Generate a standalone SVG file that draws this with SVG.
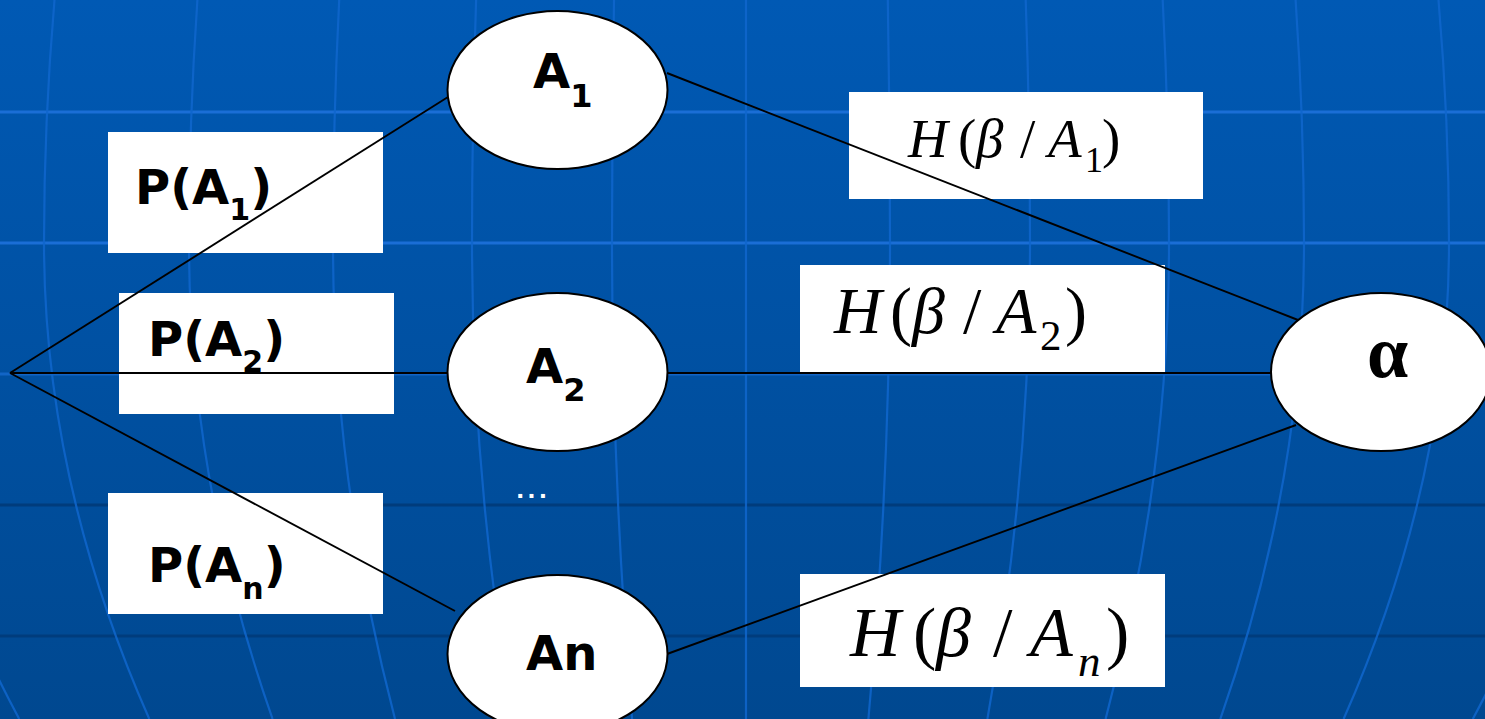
<svg xmlns="http://www.w3.org/2000/svg" width="1485" height="719" viewBox="0 0 1485 719">
  <defs>
    <linearGradient id="bg" x1="0" y1="0" x2="0" y2="1">
      <stop offset="0" stop-color="#0059b4"/>
      <stop offset="1" stop-color="#004890"/>
    </linearGradient>
    <style>
      .merid { fill: none; stroke: #0f66cc; stroke-width: 2.2; opacity: 0.85; }
      .hl { stroke: #1a6ed6; stroke-width: 3; }
      .hd { stroke: #003c7c; stroke-width: 3; }
      .box { fill: #ffffff; }
      .conn { stroke: #000000; stroke-width: 1.9; fill: none; }
      .node ellipse { fill: #ffffff; stroke: #000000; stroke-width: 2; }
      .sans { font-family: "DejaVu Sans", Verdana, sans-serif; font-weight: bold; fill: #000000; }
      .serif { font-family: "Liberation Serif", "Times New Roman", serif; fill: #000000; }
      .it { font-style: italic; }
    </style>
  </defs>

  <!-- backdrop with globe grid -->
  <rect width="1485" height="719" fill="url(#bg)"/>
  <g id="grid">
    <line class="hl" x1="0" y1="112" x2="1485" y2="112"/>
    <line class="hl" x1="0" y1="243" x2="1485" y2="243"/>
    <line class="hl" x1="0" y1="374" x2="1485" y2="374" opacity="0.7"/>
    <line class="hd" x1="0" y1="505" x2="1485" y2="505"/>
    <line class="hd" x1="0" y1="636" x2="1485" y2="636"/>
    <path class="merid" d="M-96.2 0 Q-109 121.5 -109 243 Q-109 481 19.25 719"/>
    <path class="merid" d="M54.5 0 Q44 121.5 44 243 Q44 481 149.3 719"/>
    <path class="merid" d="M197.4 0 Q189 121.5 189 243 Q189 481 272.6 719"/>
    <path class="merid" d="M339.2 0 Q333 121.5 333 243 Q333 481 395 719"/>
    <path class="merid" d="M476.1 0 Q472 121.5 472 243 Q472 481 513.1 719"/>
    <path class="merid" d="M614 0 Q612 121.5 612 243 Q612 481 632.1 719"/>
    <path class="merid" d="M746 0 L746 719"/>
    <path class="merid" d="M887.8 0 Q890 121.5 890 243 Q890 481 868.4 719"/>
    <path class="merid" d="M1025.7 0 Q1030 121.5 1030 243 Q1030 481 987.4 719"/>
    <path class="merid" d="M1162.7 0 Q1169 121.5 1169 243 Q1169 481 1105.6 719"/>
    <path class="merid" d="M1295.6 0 Q1304 121.5 1304 243 Q1304 481 1220.3 719"/>
    <path class="merid" d="M1438.5 0 Q1449 121.5 1449 243 Q1449 481 1343.6 719"/>
    <path class="merid" d="M1588.2 0 Q1601 121.5 1601 243 Q1601 481 1472.8 719"/>
  </g>

  <!-- probability labels -->
  <g id="label-pa1">
    <rect class="box" x="108" y="132" width="275" height="121"/>
    <text class="sans" x="135" y="204" font-size="48">P(A<tspan font-size="30" dy="16">1</tspan><tspan dy="-16">)</tspan></text>
  </g>
  <g id="label-pa2">
    <rect class="box" x="119" y="293" width="275" height="121"/>
    <text class="sans" x="148" y="356" font-size="48">P(A<tspan font-size="30" dy="16">2</tspan><tspan dy="-16">)</tspan></text>
  </g>
  <g id="label-pan">
    <rect class="box" x="108" y="493" width="275" height="121"/>
    <text class="sans" x="148" y="582" font-size="48">P(A<tspan font-size="30" dy="17">n</tspan><tspan dy="-17">)</tspan></text>
  </g>

  <!-- conditional entropy labels -->
  <g id="label-h1">
    <rect class="box" x="849" y="92" width="354" height="107"/>
    <text class="serif" font-size="55">
      <tspan class="it" x="908" y="157">H</tspan><tspan x="958" y="157">(</tspan><tspan class="it" x="976" y="157">β</tspan><tspan x="1020" y="157">/</tspan><tspan class="it" x="1048" y="157">A</tspan><tspan x="1085" y="172" font-size="36">1</tspan><tspan x="1102" y="157">)</tspan>
    </text>
  </g>
  <g id="label-h2">
    <rect class="box" x="800" y="265" width="365" height="107"/>
    <text class="serif" font-size="66">
      <tspan class="it" x="834" y="333">H</tspan><tspan x="890" y="333">(</tspan><tspan class="it" x="912" y="333">β</tspan><tspan x="963" y="333">/</tspan><tspan class="it" x="996" y="333">A</tspan><tspan x="1040" y="350" font-size="43">2</tspan><tspan x="1065" y="333">)</tspan>
    </text>
  </g>
  <g id="label-hn">
    <rect class="box" x="800" y="574" width="365" height="113"/>
    <text class="serif" font-size="70">
      <tspan class="it" x="850" y="656">H</tspan><tspan x="913" y="656">(</tspan><tspan class="it" x="936" y="656">β</tspan><tspan x="993" y="656">/</tspan><tspan class="it" x="1030" y="656">A</tspan><tspan class="it" x="1078" y="676" font-size="45">n</tspan><tspan x="1106" y="656">)</tspan>
    </text>
  </g>

  <!-- connectors -->
  <g id="connectors">
    <line class="conn" x1="10" y1="373" x2="448" y2="97"/>
    <line class="conn" x1="10" y1="373" x2="448" y2="373"/>
    <line class="conn" x1="10" y1="373" x2="455" y2="611"/>
    <line class="conn" x1="667" y1="73" x2="1298" y2="320"/>
    <line class="conn" x1="667" y1="373" x2="1272" y2="373"/>
    <line class="conn" x1="667" y1="654" x2="1296" y2="425"/>
  </g>

  <!-- nodes -->
  <g id="node-a1" class="node">
    <ellipse cx="557.5" cy="90" rx="110" ry="79"/>
    <text class="sans" x="533" y="88" font-size="48">A<tspan font-size="32" dy="19">1</tspan></text>
  </g>
  <g id="node-a2" class="node">
    <ellipse cx="557.5" cy="372" rx="110" ry="79"/>
    <text class="sans" x="526" y="383" font-size="48">A<tspan font-size="32" dy="18">2</tspan></text>
  </g>
  <g id="node-an" class="node">
    <ellipse cx="557.5" cy="654" rx="110" ry="79"/>
    <text class="sans" x="526" y="670" font-size="48">An</text>
  </g>
  <g id="node-alpha" class="node">
    <ellipse cx="1381" cy="372" rx="110" ry="79"/>
    <text class="serif" x="1367" y="377" font-size="74" font-weight="bold">α</text>
  </g>

  <text id="ellipsis" x="516" y="498" font-family="DejaVu Sans, sans-serif" font-weight="bold" font-size="22" letter-spacing="3" fill="#ffffff">...</text>
</svg>
